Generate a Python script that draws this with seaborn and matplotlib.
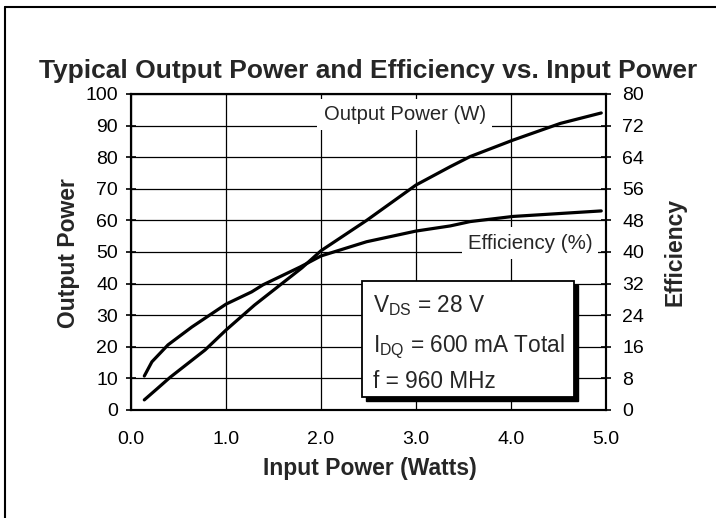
import matplotlib
matplotlib.use("Agg")
import matplotlib.pyplot as plt
import matplotlib.transforms as mtransforms
from matplotlib.patches import Rectangle
import seaborn as sns
import numpy as np

# ---------------- data ----------------
input_power_p = [0.14, 0.27, 0.41, 0.78, 1.0, 1.3, 1.8, 2.0, 2.48, 3.0, 3.36, 3.57, 4.02, 4.52, 4.95]
output_power = [3.2, 6.6, 10.3, 19.0, 25.3, 33.2, 45.0, 50.4, 60.0, 71.2, 77.0, 80.2, 85.4, 90.7, 94.0]

input_power_e = [0.14, 0.22, 0.39, 0.64, 1.0, 1.27, 1.39, 1.78, 2.0, 2.48, 3.0, 3.36, 3.57, 4.02, 4.95]
efficiency = [8.6, 12.2, 16.5, 21.0, 26.8, 29.9, 31.7, 36.2, 39.0, 42.6, 45.3, 46.6, 47.7, 49.0, 50.4]

x_ticks = [0.0, 1.0, 2.0, 3.0, 4.0, 5.0]
x_ticklabels = ["0.0", "1.0", "2.0", "3.0", "4.0", "5.0"]
left_ticks = list(range(0, 101, 10))
right_ticks = list(range(0, 81, 8))

title = "Typical Output Power and Efficiency vs. Input Power"
xlabel = "Input Power (Watts)"
ylabel_left = "Output Power"
ylabel_right = "Efficiency"
label_power = "Output Power (W)"
label_eff = "Efficiency (%)"
cond_lines = [r"V$_{\mathregular{DS}}$ = 28 V",
              r"I$_{\mathregular{DQ}}$ = 600 mA Total",
              "f = 960 MHz"]

# ---------------- style ----------------
sns.set_style("white")
plt.rcParams["font.family"] = ["Liberation Sans", "DejaVu Sans"]
plt.rcParams["mathtext.fontset"] = "custom"
plt.rcParams["mathtext.rm"] = "Liberation Sans"
plt.rcParams["mathtext.it"] = "Liberation Sans"

W, H = 716, 518
fig = plt.figure(figsize=(W / 100, H / 100), dpi=100)
fig.patch.set_facecolor("white")

L, R, B, T = 131, 606, 410, 94
ax = fig.add_axes([L / W, (H - B) / H, (R - L) / W, (B - T) / H])
ax2 = ax.twinx()

sns.lineplot(x=input_power_p, y=output_power, ax=ax, color="black", lw=2.3, zorder=5)
sns.lineplot(x=input_power_e, y=efficiency, ax=ax2, color="black", lw=2.3, zorder=5)

ax.set_xlim(0, 5)
ax.set_ylim(0, 100)
ax2.set_ylim(0, 80)
ax.set_xticks(x_ticks)
ax.set_xticklabels(x_ticklabels)
ax.set_yticks(left_ticks)
ax2.set_yticks(right_ticks)

ax.grid(True, color="black", lw=0.9)
ax2.grid(False)
ax.set_axisbelow(True)

for a in (ax, ax2):
    for s in a.spines.values():
        s.set_color("black")
        s.set_linewidth(1.5)

ax.tick_params(axis="x", direction="inout", length=6.5, width=1.2, labelsize=14, pad=12, colors="black")
ax.tick_params(axis="y", direction="inout", length=6.5, width=1.2, labelsize=14, pad=6, colors="black")
ax2.tick_params(axis="y", direction="inout", length=6.5, width=1.2, labelsize=14, pad=8.5, colors="black")

ax.set_xlabel(xlabel, fontsize=16.5, fontweight="bold", va="center")
ax.xaxis.set_label_coords(0.503, (B - 468) / (B - T))
ax.set_ylabel(ylabel_left, fontsize=16.5, fontweight="bold", va="center")
ax.yaxis.set_label_coords((68 - L) / (R - L), (B - 253) / (B - T))
ax2.set_ylabel(ylabel_right, fontsize=16.5, fontweight="bold", va="center", rotation=90)
ax2.yaxis.set_label_coords((675 - L) / (R - L), (B - 252) / (B - T))

fig.text(368.5 / W, (H - 71) / H, title, fontsize=19, fontweight="bold",
         ha="center", va="center")

bbox = dict(boxstyle="square,pad=0.3", fc="white", ec="none")
ax.text(2.88, 93.4, label_power, fontsize=14.6, ha="center", va="center", bbox=bbox, zorder=3)
ax.text(4.2, 52.8, label_eff, fontsize=14.8, ha="center", va="center", bbox=bbox, zorder=3)

# condition box with shadow
bx0, bx1, by0, by1 = 2.43, 4.66, 4.1, 40.9
shadow_tr = mtransforms.offset_copy(ax.transData, fig=fig, x=4, y=-4, units="dots")
ax.add_patch(Rectangle((bx0, by0), bx1 - bx0, by1 - by0, transform=shadow_tr,
                       fc="black", ec="black", lw=1, zorder=3))
ax.add_patch(Rectangle((bx0, by0), bx1 - bx0, by1 - by0, fc="white", ec="black",
                       lw=1.3, zorder=4))
for yv, s in zip([31.1, 18.4, 7.0], cond_lines):
    ax.text(2.55, yv, s, fontsize=16.3, ha="left", va="baseline", zorder=6)

# outer frame (left & top)
fig.add_artist(plt.Line2D([5 / W, 5 / W], [0, (H - 7) / H], transform=fig.transFigure,
                          color="black", lw=1.5))
fig.add_artist(plt.Line2D([5 / W, 1], [(H - 7) / H, (H - 7) / H], transform=fig.transFigure,
                          color="black", lw=1.5))

fig.savefig("out.png", dpi=100)
